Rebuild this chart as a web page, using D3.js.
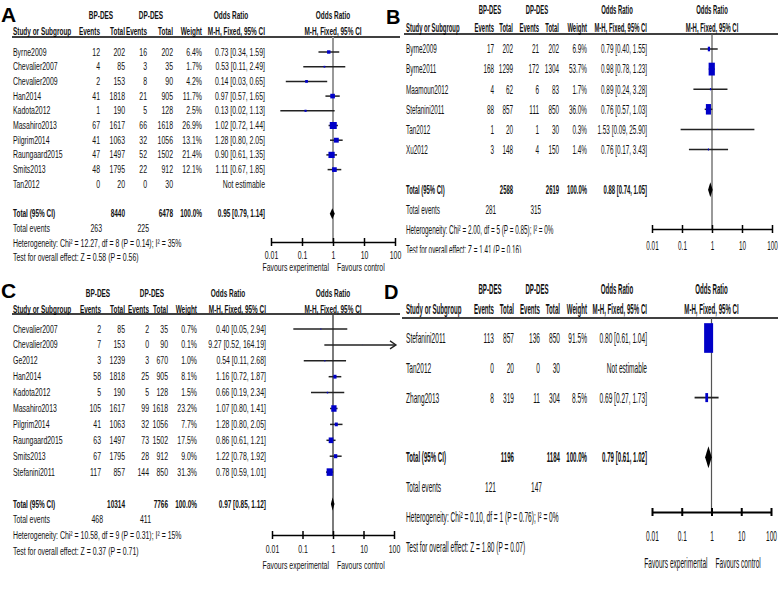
<!DOCTYPE html>
<html><head><meta charset="utf-8">
<script src="https://cdn.jsdelivr.net/npm/d3@7"></script>
<style>body{margin:0;background:#fff}svg{display:block}text{font-family:"Liberation Sans",Arial,sans-serif}</style>
</head><body><svg id="c" width="778" height="590"></svg>
<script>
// ---------- data ----------
const studiesA = ["Byrne2009","Chevalier2007","Chevalier2009","Han2014","Kadota2012","Masahiro2013","Pilgrim2014","Raungaard2015","Smits2013","Tan2012"];
const bpEventsA = [12,4,2,41,1,67,41,47,48,0];
const bpTotalA = [202,85,153,1818,190,1617,1063,1497,1795,20];
const dpEventsA = [16,3,8,21,5,66,32,52,22,0];
const dpTotalA = [202,35,90,905,128,1618,1056,1502,912,30];
const weightA = [6.4,1.7,4.2,11.7,2.5,26.9,13.1,21.4,12.1,null];
const orA = [0.73,0.53,0.14,0.97,0.13,1.02,1.28,0.90,1.11,null];
const loA = [0.34,0.11,0.03,0.57,0.02,0.72,0.80,0.61,0.67,null];
const hiA = [1.59,2.49,0.65,1.65,1.13,1.44,2.05,1.35,1.85,null];
const totalA = [8440,6478,0.95,0.79,1.14];
const eventsA = [263,225];
const hetA = "Heterogeneity: Chi\u00b2 = 12.27, df = 8 (P = 0.14); I\u00b2 = 35%";
const testA = "Test for overall effect: Z = 0.58 (P = 0.56)";

const studiesB = ["Byrne2009","Byrne2011","Maamoun2012","Stefanini2011","Tan2012","Xu2012"];
const bpEventsB = [17,168,4,88,1,3];
const bpTotalB = [202,1299,62,857,20,148];
const dpEventsB = [21,172,6,111,1,4];
const dpTotalB = [202,1304,83,850,30,150];
const weightB = [6.9,53.7,1.7,36.0,0.3,1.4];
const orB = [0.79,0.98,0.89,0.76,1.53,0.76];
const loB = [0.40,0.78,0.24,0.57,0.09,0.17];
const hiB = [1.55,1.23,3.28,1.03,25.90,3.43];
const totalB = [2588,2619,0.88,0.74,1.05];
const eventsB = [281,315];
const hetB = "Heterogeneity: Chi\u00b2 = 2.00, df = 5 (P = 0.85); I\u00b2 = 0%";
const testB = "Test for overall effect: Z = 1.41 (P = 0.16)";

const studiesC = ["Chevalier2007","Chevalier2009","Ge2012","Han2014","Kadota2012","Masahiro2013","Pilgrim2014","Raungaard2015","Smits2013","Stefanini2011"];
const bpEventsC = [2,7,3,58,5,105,41,63,67,117];
const bpTotalC = [85,153,1239,1818,190,1617,1063,1497,1795,857];
const dpEventsC = [2,0,3,25,5,99,32,73,28,144];
const dpTotalC = [35,90,670,905,128,1618,1056,1502,912,850];
const weightC = [0.7,0.1,1.0,8.1,1.5,23.2,7.7,17.5,9.0,31.3];
const orC = [0.40,9.27,0.54,1.16,0.66,1.07,1.28,0.86,1.22,0.78];
const loC = [0.05,0.52,0.11,0.72,0.19,0.80,0.80,0.61,0.78,0.59];
const hiC = [2.94,164.19,2.68,1.87,2.34,1.41,2.05,1.21,1.92,1.01];
const totalC = [10314,7766,0.97,0.85,1.12];
const eventsC = [468,411];
const hetC = "Heterogeneity: Chi\u00b2 = 10.58, df = 9 (P = 0.31); I\u00b2 = 15%";
const testC = "Test for overall effect: Z = 0.37 (P = 0.71)";

const studiesD = ["Stefanini2011","Tan2012","Zhang2013"];
const bpEventsD = [113,0,8];
const bpTotalD = [857,20,319];
const dpEventsD = [136,0,11];
const dpTotalD = [850,30,304];
const weightD = [91.5,null,8.5];
const orD = [0.80,null,0.69];
const loD = [0.61,null,0.27];
const hiD = [1.04,null,1.73];
const totalD = [1196,1184,0.79,0.61,1.02];
const eventsD = [121,147];
const hetD = "Heterogeneity: Chi\u00b2 = 0.10, df = 1 (P = 0.76); I\u00b2 = 0%";
const testD = "Test for overall effect: Z = 1.80 (P = 0.07)";

const groupHeads = ["BP-DES","DP-DES","Odds Ratio"];
const colHeads = ["Study or Subgroup","Events","Total","Events","Total","Weight","M-H, Fixed, 95% CI"];
const plotHeads = ["Odds Ratio","M-H, Fixed, 95% CI"];
const tickValues = [0.01,0.1,1,10,100];
const tickLabels = ["0.01","0.1","1","10","100"];
const favours = ["Favours experimental","Favours control"];
const rowLabels = ["Total (95% CI)","Total events","Not estimable"];

// ---------- layout ----------
const panels = [
 {id:"A", d:{s:studiesA,be:bpEventsA,bt:bpTotalA,de:dpEventsA,dt:dpTotalA,w:weightA,or:orA,lo:loA,hi:hiA,tot:totalA,ev:eventsA,het:hetA,test:testA},
  L:{lab:[1,22],labFs:21,fs:11,sx:0.63,h1:15,h2:31,line:37,lineX:[12,400],row0:52,step:14.7,
     c:[13,100,125,147,173,202,265],g1:[101,151,231],px:[271,395],axisY:242,tickY:255,favY:267,
     kx:1.35,ky:1.35,dh:11,vl:["#999",2],ciW:1.5,axW:1.5}},
 {id:"B", d:{s:studiesB,be:bpEventsB,bt:bpTotalB,de:dpEventsB,dt:dpTotalB,w:weightB,or:orB,lo:loB,hi:hiB,tot:totalB,ev:eventsB,het:hetB,test:testB},
  L:{lab:[386,24],labFs:20,fs:12,sx:0.53,h1:10,h2:28,line:34,lineX:[404,778],row0:49,step:20.1,
     c:[406,494,513,539,559,587,647],g1:[490,537,617],px:[652,772],axisY:229,tickY:246,favY:259,
     kx:0.85,ky:1.75,dh:15,vl:["#555",1.2],ciW:1.5,axW:1.5,clip:[400,0,378,253]}},
 {id:"C", d:{s:studiesC,be:bpEventsC,bt:bpTotalC,de:dpEventsC,dt:dpTotalC,w:weightC,or:orC,lo:loC,hi:hiC,tot:totalC,ev:eventsC,het:hetC,test:testC},
  L:{lab:[1,298],labFs:21,fs:11,sx:0.63,h1:293,h2:309,line:314,lineX:[12,400],row0:329,step:15.9,
     c:[13,101,125,149,168,197,266],g1:[98,152,228],px:[272,394],axisY:535,tickY:549,favY:565,
     kx:1.1,ky:1.35,dh:13,vl:["#444",1.4],ciW:1.5,axW:1.5}},
 {id:"D", d:{s:studiesD,be:bpEventsD,bt:bpTotalD,de:dpEventsD,dt:dpTotalD,w:weightD,or:orD,lo:loD,hi:hiD,tot:totalD,ev:eventsD,het:hetD,test:testD},
  L:{lab:[384,299],labFs:20,fs:14,sx:0.47,h1:289,h2:309,line:318,lineX:[402,778],row0:338,step:29.8,
     c:[406,494,514,540,560,587,647],g1:[490,537,617],px:[652,771],axisY:512,tickY:536,favY:563,
     kx:0.94,ky:3.1,dh:22,vl:["#555",1.2],ciW:1.8,axW:2}}
];

const svg = d3.select("#c");
svg.append("rect").attr("width",778).attr("height",590).attr("fill","#fff");

function T(g,x,y,s,L,o={}){
  const sx = o.b ? L.sx*0.93 : L.sx;
  return g.append("text")
    .attr("transform",`translate(${x},${y}) scale(${sx},1)`)
    .attr("text-anchor",o.a||"start").attr("dominant-baseline","central")
    .attr("font-size",L.fs).attr("font-weight",o.b?"bold":"normal")
    .attr("fill","#111").text(s);
}
const fmtOR = (o,l,h)=>`${o.toFixed(2)} [${l.toFixed(2)}, ${h.toFixed(2)}]`;

panels.forEach(P=>{
  const L=P.L, D=P.d;
  let g = svg.append("g");
  if(L.clip){
    const id="clip"+P.id;
    svg.append("defs").append("clipPath").attr("id",id).append("rect")
      .attr("x",L.clip[0]).attr("y",L.clip[1]).attr("width",L.clip[2]).attr("height",L.clip[3]);
    g.attr("clip-path",`url(#${id})`);
  }
  const x = d3.scaleLog().domain([0.01,100]).range(L.px);
  const y = d3.scaleLinear().domain([0,1]).range([L.row0,L.row0+L.step]);
  const sz = d3.scaleSqrt().domain([0,100]).range([0,10]);
  const n = D.s.length;

  // panel letter
  svg.append("text").attr("x",L.lab[0]).attr("y",L.lab[1]).attr("font-size",L.labFs)
    .attr("font-weight","bold").attr("fill","#000").text(P.id);

  // headers
  groupHeads.forEach((h,i)=>T(g,L.g1[i],L.h1,h,L,{a:"middle",b:true}));
  T(g,(L.px[0]+L.px[1])/2,L.h1,plotHeads[0],L,{a:"middle",b:true});
  colHeads.forEach((h,i)=>T(g,L.c[i],L.h2,h,L,{a:i===0?"start":"end",b:true}));
  T(g,x(1),L.h2,plotHeads[1],L,{a:"middle",b:true});
  g.append("line").attr("x1",L.lineX[0]).attr("x2",L.lineX[1]).attr("y1",L.line).attr("y2",L.line)
    .attr("stroke","#000").attr("stroke-width",1.5);

  // vertical line at OR=1
  g.append("line").attr("x1",x(1)).attr("x2",x(1)).attr("y1",L.line).attr("y2",L.axisY)
    .attr("stroke",L.vl[0]).attr("stroke-width",L.vl[1]);

  // study rows
  D.s.forEach((s,i)=>{
    const yy=y(i);
    T(g,L.c[0],yy,s,L);
    T(g,L.c[1],yy,D.be[i],L,{a:"end"});
    T(g,L.c[2],yy,D.bt[i],L,{a:"end"});
    T(g,L.c[3],yy,D.de[i],L,{a:"end"});
    T(g,L.c[4],yy,D.dt[i],L,{a:"end"});
    if(D.w[i]==null){
      T(g,L.c[6],yy,rowLabels[2],L,{a:"end"});
      return;
    }
    T(g,L.c[5],yy,D.w[i].toFixed(1)+"%",L,{a:"end"});
    T(g,L.c[6],yy,fmtOR(D.or[i],D.lo[i],D.hi[i]),L,{a:"end"});
    const over = D.hi[i]>100;
    const xr = over? L.px[1]+1 : x(D.hi[i]);
    g.append("line").attr("x1",x(Math.max(D.lo[i],0.01))).attr("x2",xr).attr("y1",yy).attr("y2",yy)
      .attr("stroke","#222").attr("stroke-width",L.ciW);
    if(over){
      g.append("path").attr("d",`M${xr-5},${yy-4}L${xr+1},${yy}L${xr-5},${yy+4}`)
        .attr("fill","none").attr("stroke","#222").attr("stroke-width",1.3);
    }
    const w=L.kx*sz(D.w[i]), h=L.ky*sz(D.w[i]);
    g.append("rect").attr("x",x(D.or[i])-w/2).attr("y",yy-h/2).attr("width",w).attr("height",h)
      .attr("fill","#0000c8");
  });

  // totals
  const yT=y(n+1);
  T(g,L.c[0],yT,rowLabels[0],L,{b:true});
  T(g,L.c[2],yT,D.tot[0],L,{a:"end",b:true});
  T(g,L.c[4],yT,D.tot[1],L,{a:"end",b:true});
  T(g,L.c[5],yT,"100.0%",L,{a:"end",b:true});
  T(g,L.c[6],yT,fmtOR(D.tot[2],D.tot[3],D.tot[4]),L,{a:"end",b:true});
  g.append("path").attr("d",`M${x(D.tot[3])},${yT}L${x(D.tot[2])},${yT-L.dh/2}L${x(D.tot[4])},${yT}L${x(D.tot[2])},${yT+L.dh/2}Z`)
    .attr("fill","#000");
  const yE=y(n+2);
  T(g,L.c[0],yE,rowLabels[1],L);
  T(g,L.c[1]+2,yE,D.ev[0],L,{a:"end"});
  T(g,L.c[3]+2,yE,D.ev[1],L,{a:"end"});
  T(g,L.c[0],y(n+3),D.het,L);
  T(g,L.c[0],y(n+4),D.test,L);

  // axis
  const ax = g.append("g").attr("transform",`translate(0,${L.axisY})`)
    .call(d3.axisBottom(x).tickValues(tickValues).tickFormat((d,i)=>tickLabels[i]).tickSizeOuter(0));
  ax.attr("font-family",null).attr("font-size",null);
  ax.select(".domain").attr("stroke","#000").attr("stroke-width",L.axW);
  ax.selectAll(".tick line").attr("y1",-4).attr("y2",4).attr("stroke","#000").attr("stroke-width",L.axW);
  ax.selectAll(".tick text").attr("y",L.tickY-L.axisY).attr("dy",null).attr("dominant-baseline","central")
    .attr("font-size",L.fs).attr("fill","#111").attr("transform",`scale(${L.sx},1)`);
  T(g,x(1)-4,L.favY,favours[0],L,{a:"end"});
  T(g,x(1)+4,L.favY,favours[1],L,{a:"start"});
});
</script></body></html>
